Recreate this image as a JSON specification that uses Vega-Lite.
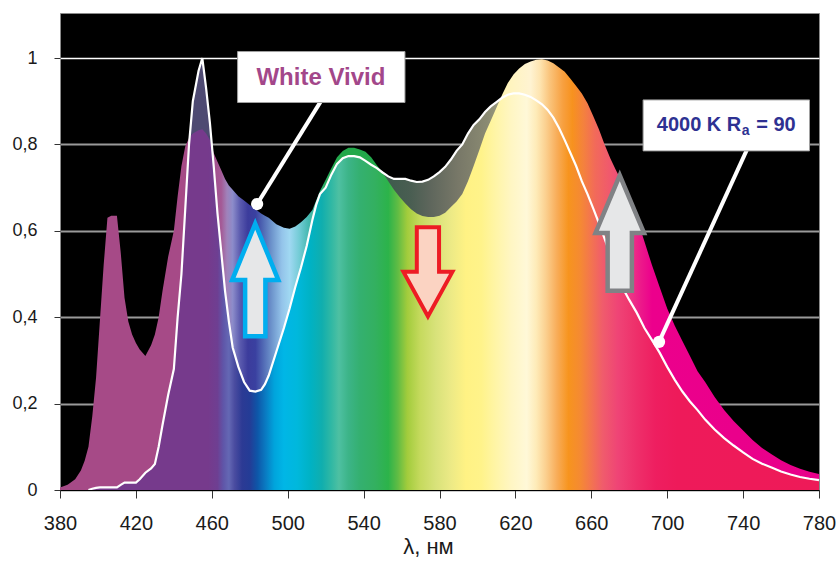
{
  "$schema": "https://vega.github.io/schema/vega-lite/v6.json",
  "width": 759,
  "height": 477,
  "autosize": {"type": "none"},
  "padding": {"left": 60, "top": 13, "right": 21, "bottom": 73},
  "background": "white",
  "config": {
    "font": "Liberation Sans",
    "view": {"fill": "black", "stroke": "#8a8a8a", "strokeWidth": 1}
  },
  "data": {
    "values": [
      {"nm": 380, "wv": 0.006, "k": 0},
      {"nm": 384, "wv": 0.012, "k": 0},
      {"nm": 388, "wv": 0.025, "k": 0},
      {"nm": 391, "wv": 0.045, "k": 0},
      {"nm": 393, "wv": 0.068, "k": 0},
      {"nm": 395, "wv": 0.10, "k": 0},
      {"nm": 397, "wv": 0.17, "k": 0.003},
      {"nm": 399, "wv": 0.26, "k": 0.005},
      {"nm": 401, "wv": 0.39, "k": 0.006},
      {"nm": 403, "wv": 0.52, "k": 0.006},
      {"nm": 405, "wv": 0.63, "k": 0.006},
      {"nm": 407, "wv": 0.635, "k": 0.006},
      {"nm": 410, "wv": 0.635, "k": 0.006},
      {"nm": 412, "wv": 0.55, "k": 0.012},
      {"nm": 414, "wv": 0.445, "k": 0.017},
      {"nm": 416, "wv": 0.39, "k": 0.017},
      {"nm": 418, "wv": 0.36, "k": 0.017},
      {"nm": 420, "wv": 0.34, "k": 0.017},
      {"nm": 422, "wv": 0.325, "k": 0.025},
      {"nm": 425, "wv": 0.31, "k": 0.04},
      {"nm": 428, "wv": 0.335, "k": 0.05},
      {"nm": 430, "wv": 0.36, "k": 0.06},
      {"nm": 432, "wv": 0.40, "k": 0.10},
      {"nm": 434, "wv": 0.46, "k": 0.15},
      {"nm": 437, "wv": 0.54, "k": 0.22},
      {"nm": 440, "wv": 0.60, "k": 0.28},
      {"nm": 442, "wv": 0.68, "k": 0.40},
      {"nm": 444, "wv": 0.75, "k": 0.50},
      {"nm": 446, "wv": 0.795, "k": 0.65},
      {"nm": 448, "wv": 0.815, "k": 0.80},
      {"nm": 450, "wv": 0.825, "k": 0.90},
      {"nm": 453, "wv": 0.833, "k": 0.97},
      {"nm": 455, "wv": 0.835, "k": 1.0},
      {"nm": 457, "wv": 0.825, "k": 0.93},
      {"nm": 459, "wv": 0.81, "k": 0.85},
      {"nm": 461, "wv": 0.78, "k": 0.75},
      {"nm": 463, "wv": 0.76, "k": 0.64},
      {"nm": 465, "wv": 0.74, "k": 0.55},
      {"nm": 467, "wv": 0.72, "k": 0.46},
      {"nm": 469, "wv": 0.705, "k": 0.39},
      {"nm": 471, "wv": 0.695, "k": 0.33},
      {"nm": 474, "wv": 0.68, "k": 0.285},
      {"nm": 477, "wv": 0.67, "k": 0.25},
      {"nm": 480, "wv": 0.66, "k": 0.23},
      {"nm": 483, "wv": 0.65, "k": 0.228},
      {"nm": 486, "wv": 0.64, "k": 0.232},
      {"nm": 488, "wv": 0.635, "k": 0.245},
      {"nm": 490, "wv": 0.63, "k": 0.265},
      {"nm": 494, "wv": 0.615, "k": 0.32},
      {"nm": 498, "wv": 0.607, "k": 0.375},
      {"nm": 501, "wv": 0.605, "k": 0.42},
      {"nm": 504, "wv": 0.61, "k": 0.47},
      {"nm": 507, "wv": 0.62, "k": 0.515},
      {"nm": 510, "wv": 0.632, "k": 0.565},
      {"nm": 513, "wv": 0.648, "k": 0.625},
      {"nm": 515, "wv": 0.67, "k": 0.66},
      {"nm": 517, "wv": 0.692, "k": 0.685},
      {"nm": 520, "wv": 0.718, "k": 0.70},
      {"nm": 523, "wv": 0.745, "k": 0.73},
      {"nm": 526, "wv": 0.77, "k": 0.755},
      {"nm": 529, "wv": 0.785, "k": 0.768},
      {"nm": 532, "wv": 0.792, "k": 0.773},
      {"nm": 535, "wv": 0.792, "k": 0.773},
      {"nm": 538, "wv": 0.788, "k": 0.77},
      {"nm": 541, "wv": 0.783, "k": 0.762},
      {"nm": 544, "wv": 0.77, "k": 0.753},
      {"nm": 547, "wv": 0.752, "k": 0.745},
      {"nm": 550, "wv": 0.735, "k": 0.735},
      {"nm": 553, "wv": 0.715, "k": 0.726},
      {"nm": 556, "wv": 0.695, "k": 0.72},
      {"nm": 559, "wv": 0.678, "k": 0.72},
      {"nm": 562, "wv": 0.663, "k": 0.72},
      {"nm": 565, "wv": 0.65, "k": 0.716},
      {"nm": 568, "wv": 0.64, "k": 0.713},
      {"nm": 571, "wv": 0.634, "k": 0.714},
      {"nm": 574, "wv": 0.632, "k": 0.718},
      {"nm": 577, "wv": 0.632, "k": 0.726},
      {"nm": 580, "wv": 0.635, "k": 0.736},
      {"nm": 583, "wv": 0.642, "k": 0.748},
      {"nm": 586, "wv": 0.655, "k": 0.765},
      {"nm": 589, "wv": 0.668, "k": 0.785},
      {"nm": 592, "wv": 0.685, "k": 0.80},
      {"nm": 595, "wv": 0.715, "k": 0.825},
      {"nm": 598, "wv": 0.75, "k": 0.845},
      {"nm": 601, "wv": 0.787, "k": 0.858},
      {"nm": 604, "wv": 0.825, "k": 0.875},
      {"nm": 607, "wv": 0.855, "k": 0.888},
      {"nm": 610, "wv": 0.885, "k": 0.898},
      {"nm": 613, "wv": 0.915, "k": 0.908},
      {"nm": 616, "wv": 0.942, "k": 0.915},
      {"nm": 619, "wv": 0.962, "k": 0.918},
      {"nm": 622, "wv": 0.976, "k": 0.918},
      {"nm": 625, "wv": 0.986, "k": 0.915},
      {"nm": 628, "wv": 0.992, "k": 0.91},
      {"nm": 631, "wv": 0.996, "k": 0.902},
      {"nm": 634, "wv": 0.997, "k": 0.893},
      {"nm": 637, "wv": 0.994, "k": 0.88},
      {"nm": 640, "wv": 0.988, "k": 0.862},
      {"nm": 643, "wv": 0.978, "k": 0.838},
      {"nm": 646, "wv": 0.968, "k": 0.81},
      {"nm": 649, "wv": 0.952, "k": 0.78},
      {"nm": 652, "wv": 0.935, "k": 0.75},
      {"nm": 655, "wv": 0.918, "k": 0.715},
      {"nm": 658, "wv": 0.895, "k": 0.685},
      {"nm": 661, "wv": 0.866, "k": 0.652},
      {"nm": 664, "wv": 0.835, "k": 0.618},
      {"nm": 667, "wv": 0.80, "k": 0.582},
      {"nm": 670, "wv": 0.768, "k": 0.545},
      {"nm": 673, "wv": 0.74, "k": 0.51},
      {"nm": 676, "wv": 0.715, "k": 0.472},
      {"nm": 680, "wv": 0.672, "k": 0.44},
      {"nm": 684, "wv": 0.63, "k": 0.41},
      {"nm": 688, "wv": 0.575, "k": 0.375},
      {"nm": 692, "wv": 0.52, "k": 0.347},
      {"nm": 696, "wv": 0.47, "k": 0.318},
      {"nm": 700, "wv": 0.42, "k": 0.285},
      {"nm": 704, "wv": 0.38, "k": 0.255},
      {"nm": 708, "wv": 0.345, "k": 0.228},
      {"nm": 712, "wv": 0.31, "k": 0.205},
      {"nm": 716, "wv": 0.275, "k": 0.185},
      {"nm": 720, "wv": 0.25, "k": 0.163},
      {"nm": 725, "wv": 0.215, "k": 0.14},
      {"nm": 730, "wv": 0.185, "k": 0.12},
      {"nm": 735, "wv": 0.16, "k": 0.103},
      {"nm": 740, "wv": 0.138, "k": 0.087},
      {"nm": 745, "wv": 0.116, "k": 0.072},
      {"nm": 750, "wv": 0.097, "k": 0.061},
      {"nm": 755, "wv": 0.083, "k": 0.052},
      {"nm": 760, "wv": 0.069, "k": 0.043},
      {"nm": 765, "wv": 0.058, "k": 0.036},
      {"nm": 770, "wv": 0.049, "k": 0.03},
      {"nm": 775, "wv": 0.042, "k": 0.026},
      {"nm": 780, "wv": 0.037, "k": 0.023}
    ]
  },
  "layer": [
    {
      "mark": {
        "type": "area",
        "fill": {
          "gradient": "linear", "x1": 0, "y1": 0, "x2": 1, "y2": 0,
          "stops": [
            {"offset": 0, "color": "#763A8C"},
            {"offset": 0.195, "color": "#763A8C"},
            {"offset": 0.2075, "color": "#6E3F92"},
            {"offset": 0.215, "color": "#5F55A8"},
            {"offset": 0.2225, "color": "#6468B4"},
            {"offset": 0.23, "color": "#4A4CA0"},
            {"offset": 0.24, "color": "#2C3A94"},
            {"offset": 0.25, "color": "#243C96"},
            {"offset": 0.26, "color": "#0E56A8"},
            {"offset": 0.27, "color": "#0A78C0"},
            {"offset": 0.2825, "color": "#00A4DC"},
            {"offset": 0.295, "color": "#00B6E6"},
            {"offset": 0.3125, "color": "#00B8DC"},
            {"offset": 0.33, "color": "#00B2C4"},
            {"offset": 0.345, "color": "#10AEAE"},
            {"offset": 0.3575, "color": "#30B8A4"},
            {"offset": 0.3675, "color": "#4EC0A2"},
            {"offset": 0.38, "color": "#3CB488"},
            {"offset": 0.395, "color": "#34B070"},
            {"offset": 0.415, "color": "#33B060"},
            {"offset": 0.4325, "color": "#2CB34A"},
            {"offset": 0.445, "color": "#60BC44"},
            {"offset": 0.4575, "color": "#A2CC3C"},
            {"offset": 0.475, "color": "#C6DA5E"},
            {"offset": 0.495, "color": "#D8E27A"},
            {"offset": 0.515, "color": "#ECEA86"},
            {"offset": 0.535, "color": "#FFF284"},
            {"offset": 0.555, "color": "#FFF38A"},
            {"offset": 0.575, "color": "#FFF5A8"},
            {"offset": 0.595, "color": "#FFF6C4"},
            {"offset": 0.615, "color": "#FFF8D8"},
            {"offset": 0.6275, "color": "#FEEBB8"},
            {"offset": 0.64, "color": "#FBD090"},
            {"offset": 0.655, "color": "#F8AC58"},
            {"offset": 0.67, "color": "#F7941E"},
            {"offset": 0.685, "color": "#F58A32"},
            {"offset": 0.70, "color": "#F37450"},
            {"offset": 0.715, "color": "#F05C6C"},
            {"offset": 0.735, "color": "#EF4476"},
            {"offset": 0.76, "color": "#EE2F6A"},
            {"offset": 0.785, "color": "#EE1E60"},
            {"offset": 0.8125, "color": "#EE1A5A"},
            {"offset": 1, "color": "#EE1A58"}
          ]
        }
      },
      "encoding": {
        "x": {
          "field": "nm", "type": "quantitative",
          "scale": {"domain": [380, 780], "nice": false, "zero": false},
          "axis": {
            "title": "λ, нм",
            "values": [380, 400, 420, 440, 460, 480, 500, 520, 540, 560, 580, 600, 620, 640, 660, 680, 700, 720, 740, 760, 780],
            "labelExpr": "(datum.value - 380) % 40 == 0 ? datum.label : ''",
            "grid": false,
            "domainColor": "#000000",
            "domainWidth": 1,
            "tickColor": "#333333",
            "tickSize": 8,
            "tickWidth": 1,
            "labelFontSize": 20,
            "labelColor": "#1a1a1a",
            "labelPadding": 15,
            "labelFlush": false,
            "labelOverlap": false,
            "titleFontSize": 22,
            "titleFontWeight": "normal",
            "titleColor": "#1a1a1a",
            "titlePadding": 3,
            "titleX": 368,
            "zindex": 1
          }
        },
        "y": {
          "field": "k", "type": "quantitative",
          "scale": {"domain": [0, 1.1042], "nice": false, "zero": true},
          "axis": {
            "title": null,
            "values": [0, 0.2, 0.4, 0.6, 0.8, 1],
            "labelExpr": "replace(format(datum.value, '~g'), '.', ',')",
            "grid": true,
            "gridColor": {"condition": {"test": "datum.value == 1", "value": "#ffffff"}, "value": "#9a9a9a"},
            "gridWidth": {"condition": {"test": "datum.value == 1", "value": 1.3}, "value": 2},
            "domain": false,
            "tickColor": "#333333",
            "tickSize": 6,
            "labelFontSize": 18,
            "labelColor": "#1a1a1a",
            "labelPadding": 17,
            "zindex": 0
          }
        }
      }
    },
    {
      "mark": {
        "type": "area",
        "fill": {
          "gradient": "linear", "x1": 0, "y1": 0, "x2": 1, "y2": 0,
          "stops": [
            {"offset": 0, "color": "#A64A87"},
            {"offset": 0.1704, "color": "#A64A87"},
            {"offset": 0.1705, "color": "#4E4A72"},
            {"offset": 0.2002, "color": "#4E4A72"},
            {"offset": 0.2003, "color": "#A24C8A"},
            {"offset": 0.2125, "color": "#A45A96"},
            {"offset": 0.22, "color": "#A082BA"},
            {"offset": 0.2275, "color": "#8C8CCA"},
            {"offset": 0.2375, "color": "#5A5AAE"},
            {"offset": 0.2475, "color": "#3C3C9C"},
            {"offset": 0.2575, "color": "#3A40A0"},
            {"offset": 0.2675, "color": "#5068B4"},
            {"offset": 0.28, "color": "#7098CE"},
            {"offset": 0.2925, "color": "#94C4EA"},
            {"offset": 0.3025, "color": "#A0D8F2"},
            {"offset": 0.315, "color": "#74CCD6"},
            {"offset": 0.3275, "color": "#44B8B0"},
            {"offset": 0.34, "color": "#3AB088"},
            {"offset": 0.35, "color": "#28AA5C"},
            {"offset": 0.37, "color": "#22A84A"},
            {"offset": 0.4249, "color": "#22A84A"},
            {"offset": 0.425, "color": "#3C5A4C"},
            {"offset": 0.4625, "color": "#4A5E52"},
            {"offset": 0.4875, "color": "#5E665C"},
            {"offset": 0.525, "color": "#787868"},
            {"offset": 0.5625, "color": "#8A8A72"},
            {"offset": 0.5799, "color": "#9A9A7E"},
            {"offset": 0.58, "color": "#FFF4B4"},
            {"offset": 0.60, "color": "#FFF4C4"},
            {"offset": 0.62, "color": "#FFF3D2"},
            {"offset": 0.6325, "color": "#FEE4B0"},
            {"offset": 0.645, "color": "#FAC47C"},
            {"offset": 0.6625, "color": "#F7A040"},
            {"offset": 0.675, "color": "#F7921E"},
            {"offset": 0.69, "color": "#F4813E"},
            {"offset": 0.705, "color": "#F26A5A"},
            {"offset": 0.725, "color": "#F0586E"},
            {"offset": 0.745, "color": "#EE4482"},
            {"offset": 0.765, "color": "#EC1A8A"},
            {"offset": 0.78, "color": "#EC008C"},
            {"offset": 1, "color": "#E8008A"}
          ]
        }
      },
      "encoding": {
        "x": {"field": "nm", "type": "quantitative"},
        "y": {"field": "wv", "type": "quantitative"},
        "y2": {"field": "k"}
      }
    },
    {
      "transform": [{"filter": "datum.nm >= 395"}],
      "mark": {"type": "line", "color": "#ffffff", "strokeWidth": 2.2},
      "encoding": {
        "x": {"field": "nm", "type": "quantitative"},
        "y": {"field": "k", "type": "quantitative"}
      }
    },
    {
      "data": {"values": [{"nm": 482.9, "v": 0.486}]},
      "mark": {"type": "point", "shape": "M0,-1L0.41,0L0.18,0L0.18,1L-0.18,1L-0.18,0L-0.41,0Z", "size": 12679, "filled": true, "fill": "#E6E7E8", "stroke": "#00AEEF", "strokeWidth": 4.5, "opacity": 1, "fillOpacity": 1, "strokeOpacity": 1},
      "encoding": {
        "x": {"field": "nm", "type": "quantitative"},
        "y": {"field": "v", "type": "quantitative"}
      }
    },
    {
      "data": {"values": [{"nm": 675.0, "v": 0.595}]},
      "mark": {"type": "point", "shape": "M0,-1L0.42,0L0.21,0L0.21,1L-0.21,1L-0.21,0L-0.42,0Z", "size": 13317, "filled": true, "fill": "#E6E7E8", "stroke": "#808285", "strokeWidth": 4.5, "opacity": 1, "fillOpacity": 1, "strokeOpacity": 1},
      "encoding": {
        "x": {"field": "nm", "type": "quantitative"},
        "y": {"field": "v", "type": "quantitative"}
      }
    },
    {
      "data": {"values": [{"nm": 573.9, "v": 0.505}]},
      "mark": {"type": "point", "shape": "M-0.25,-1L0.25,-1L0.25,0L0.55,0L0,1L-0.55,0L-0.25,0Z", "size": 7921, "filled": true, "fill": "#FBD3C2", "stroke": "#ED1C24", "strokeWidth": 4, "opacity": 1, "fillOpacity": 1, "strokeOpacity": 1},
      "encoding": {
        "x": {"field": "nm", "type": "quantitative"},
        "y": {"field": "v", "type": "quantitative"}
      }
    },
    {
      "data": {"values": [
        {"nm": 483.9, "v": 0.662, "nm2": 518.9, "v2": 0.91},
        {"nm": 695.7, "v": 0.343, "nm2": 743.3, "v2": 0.80}
      ]},
      "mark": {"type": "rule", "color": "#ffffff", "strokeWidth": 4},
      "encoding": {
        "x": {"field": "nm", "type": "quantitative"},
        "y": {"field": "v", "type": "quantitative"},
        "x2": {"field": "nm2"},
        "y2": {"field": "v2"}
      }
    },
    {
      "data": {"values": [
        {"nm": 483.9, "v": 0.662},
        {"nm": 695.7, "v": 0.343}
      ]},
      "mark": {"type": "point", "shape": "circle", "size": 150, "filled": true, "color": "#ffffff", "opacity": 1},
      "encoding": {
        "x": {"field": "nm", "type": "quantitative"},
        "y": {"field": "v", "type": "quantitative"}
      }
    },
    {
      "data": {"values": [
        {"nm": 473.6, "nm2": 561.8, "v": 0.897, "v2": 1.015},
        {"nm": 687.3, "nm2": 775.0, "v": 0.785, "v2": 0.903}
      ]},
      "mark": {"type": "rect", "fill": "#ffffff", "stroke": "#A0A0A0", "strokeWidth": 1},
      "encoding": {
        "x": {"field": "nm", "type": "quantitative"},
        "x2": {"field": "nm2"},
        "y": {"field": "v", "type": "quantitative"},
        "y2": {"field": "v2"}
      }
    },
    {
      "data": {"values": [{"nm": 517.5, "v": 0.9375, "label": "White Vivid"}]},
      "mark": {"type": "text", "font": "Liberation Sans", "fontWeight": "bold", "fontSize": 24, "color": "#A3478A", "align": "center", "baseline": "alphabetic"},
      "encoding": {
        "x": {"field": "nm", "type": "quantitative"},
        "y": {"field": "v", "type": "quantitative"},
        "text": {"field": "label"}
      }
    },
    {
      "data": {"values": [{"nm": 739.05, "v": 0.8317, "label": "4000 K R"}]},
      "mark": {"type": "text", "font": "Liberation Sans", "fontWeight": "bold", "fontSize": 20, "color": "#2E3192", "align": "right", "baseline": "alphabetic"},
      "encoding": {
        "x": {"field": "nm", "type": "quantitative"},
        "y": {"field": "v", "type": "quantitative"},
        "text": {"field": "label"}
      }
    },
    {
      "data": {"values": [{"nm": 739.3, "v": 0.822, "label": "a"}]},
      "mark": {"type": "text", "font": "Liberation Sans", "fontWeight": "bold", "fontSize": 14, "color": "#2E3192", "align": "left", "baseline": "alphabetic"},
      "encoding": {
        "x": {"field": "nm", "type": "quantitative"},
        "y": {"field": "v", "type": "quantitative"},
        "text": {"field": "label"}
      }
    },
    {
      "data": {"values": [{"nm": 746.9, "v": 0.8317, "label": "= 90"}]},
      "mark": {"type": "text", "font": "Liberation Sans", "fontWeight": "bold", "fontSize": 20, "color": "#2E3192", "align": "left", "baseline": "alphabetic"},
      "encoding": {
        "x": {"field": "nm", "type": "quantitative"},
        "y": {"field": "v", "type": "quantitative"},
        "text": {"field": "label"}
      }
    }
  ]
}
